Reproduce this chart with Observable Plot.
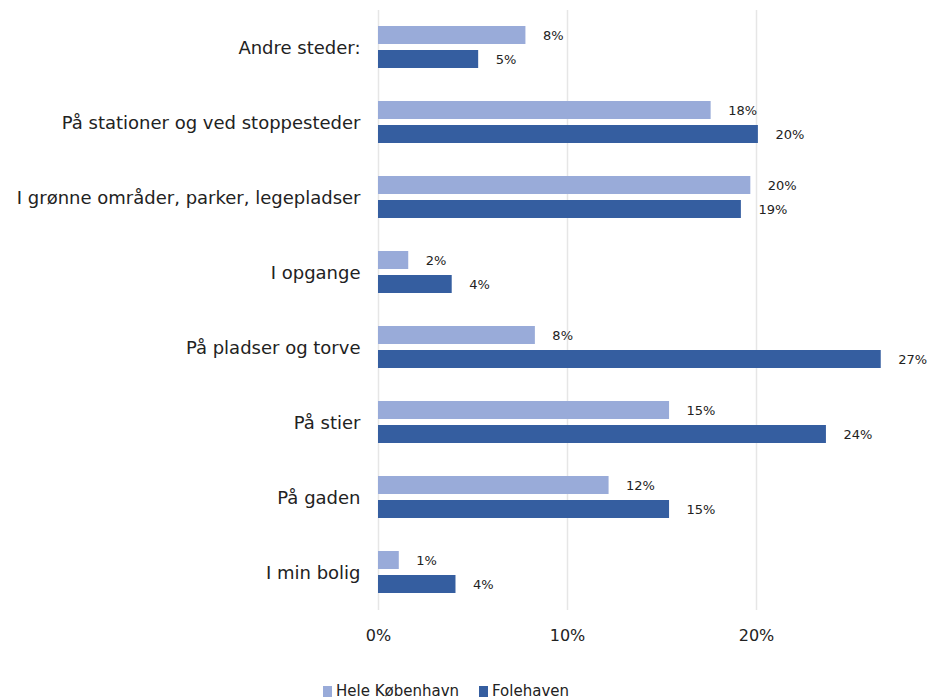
<!DOCTYPE html>
<html>
<head>
<meta charset="utf-8">
<script src="https://cdn.jsdelivr.net/npm/d3@7"></script>
<script src="https://cdn.jsdelivr.net/npm/@observablehq/plot@0.6"></script>
<style>
  body { margin: 0; background: #fff; font-family: "DejaVu Sans", sans-serif; }
  #legend { display: flex; justify-content: center; align-items: center; gap: 20px; font-size: 15px; color: #222; height: 28px; padding-top: 3px; transform: translateX(-28px); }
  #legend span.item { display: flex; align-items: center; }
  #legend span.sw { display: inline-block; width: 9px; height: 11px; margin-right: 4px; }
</style>
</head>
<body>
<div id="chart"></div>
<div id="legend"></div>
<script>
const categories = ["Andre steder:", "På stationer og ved stoppesteder", "I grønne områder, parker, legepladser", "I opgange", "På pladser og torve", "På stier", "På gaden", "I min bolig"];
const series = ["Hele København", "Folehaven"];
const hele = [7.8, 17.6, 19.7, 1.6, 8.3, 15.4, 12.2, 1.1];
const folehaven = [5.3, 20.1, 19.2, 3.9, 26.6, 23.7, 15.4, 4.1];
const colors = ["#99abd9", "#355ea0"];
const xTicks = [0, 10, 20];

const data = [];
categories.forEach((c, i) => {
  data.push({category: c, series: series[0], value: hele[i]});
  data.push({category: c, series: series[1], value: folehaven[i]});
});

const plot = Plot.plot({
  width: 948,
  height: 674,
  marginLeft: 378,
  marginRight: 3,
  marginTop: 8,
  marginBottom: 62,
  style: {fontSize: "18px", fontFamily: "'DejaVu Sans', sans-serif", color: "#222"},
  x: {domain: [0, 30], ticks: xTicks, tickFormat: d => d + "%", tickSize: 0, tickPadding: 19, label: null},
  y: {domain: series, paddingInner: 0.24, paddingOuter: 0.63, axis: null},
  fy: {domain: categories, padding: 0, label: null, tickSize: 0, tickPadding: 18},
  color: {domain: series, range: colors},
  marks: [
    Plot.ruleX(xTicks, {stroke: "#e6e6e6", strokeWidth: 1.5}),
    Plot.barX(data, {fy: "category", y: "series", x: "value", fill: "series"}),
    Plot.text(data, {fy: "category", y: "series", x: "value", text: d => Math.round(d.value) + "%", textAnchor: "start", dx: 17, fontSize: 13, fill: "#222"})
  ]
});
d3.select(plot).selectAll('g[aria-label="x-axis tick label"]').attr("font-size", 16);
document.getElementById("chart").appendChild(plot);

const legend = document.getElementById("legend");
series.forEach((s, i) => {
  const item = document.createElement("span");
  item.className = "item";
  const sw = document.createElement("span");
  sw.className = "sw";
  sw.style.background = colors[i];
  item.appendChild(sw);
  item.appendChild(document.createTextNode(s));
  legend.appendChild(item);
});
</script>
</body>
</html>
